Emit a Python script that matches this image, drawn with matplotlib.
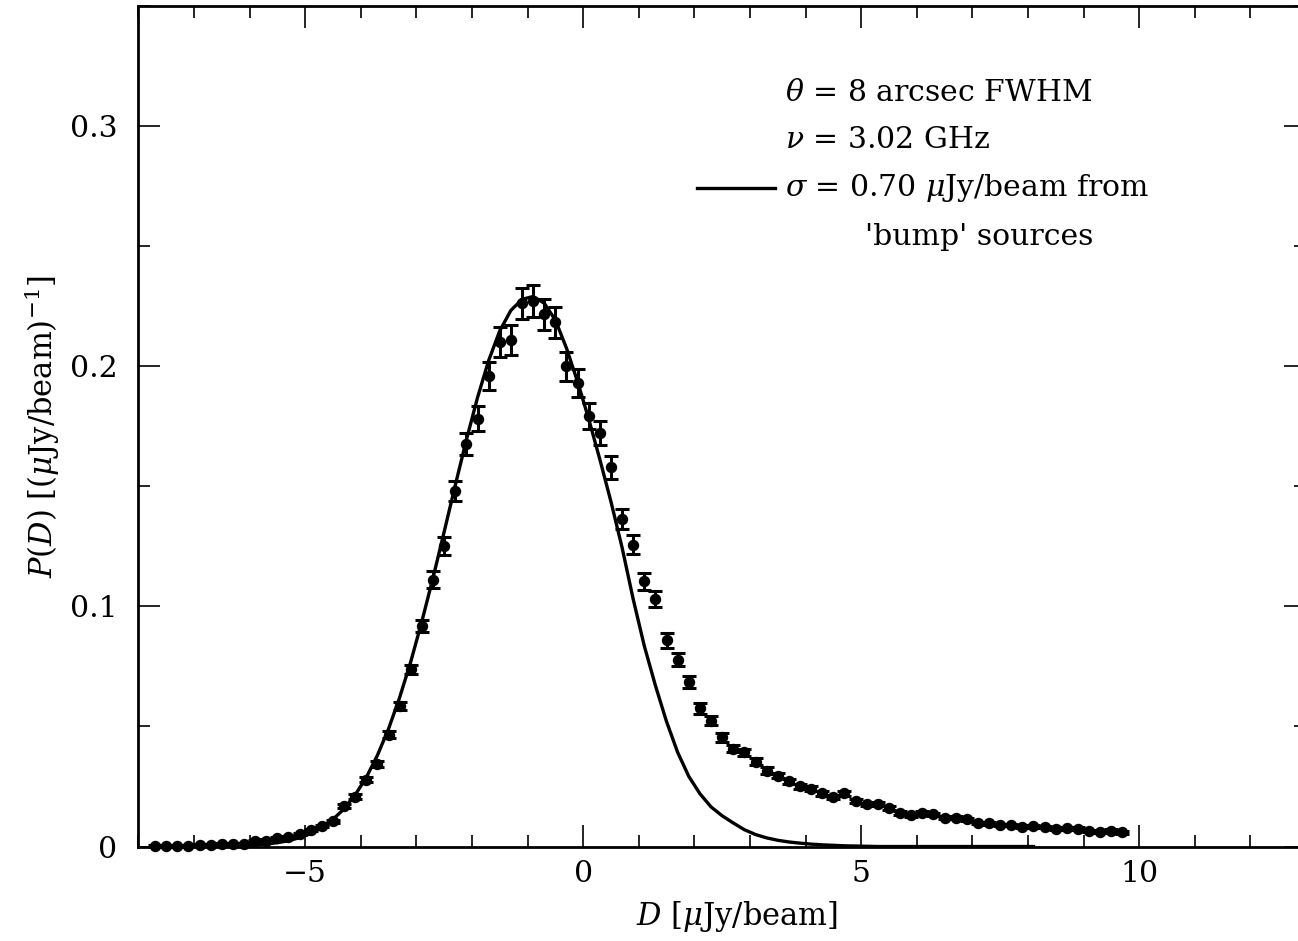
import matplotlib.pyplot as plt
import numpy as np

plt.rcParams['font.family'] = 'DejaVu Serif'
plt.rcParams['mathtext.fontset'] = 'dejavuserif'

## measured P(D) histogram (bin centres, values, errors)
D_data = [-7.7, -7.5, -7.3, -7.1, -6.9, -6.7, -6.5, -6.3, -6.1, -5.9,
          -5.7, -5.5, -5.3, -5.1, -4.9, -4.7, -4.5, -4.3, -4.1, -3.9,
          -3.7, -3.5, -3.3, -3.1, -2.9, -2.7, -2.5, -2.3, -2.1, -1.9,
          -1.7, -1.5, -1.3, -1.1, -0.9, -0.7, -0.5, -0.3, -0.1, 0.1,
          0.3, 0.5, 0.7, 0.9, 1.1, 1.3, 1.5, 1.7, 1.9, 2.1,
          2.3, 2.5, 2.7, 2.9, 3.1, 3.3, 3.5, 3.7, 3.9, 4.1,
          4.3, 4.5, 4.7, 4.9, 5.1, 5.3, 5.5, 5.7, 5.9, 6.1,
          6.3, 6.5, 6.7, 6.9, 7.1, 7.3, 7.5, 7.7, 7.9, 8.1,
          8.3, 8.5, 8.7, 8.9, 9.1, 9.3, 9.5, 9.7]

P_data = [0.0003, 0.0003, 0.0004, 0.0004, 0.0008, 0.0008, 0.0010, 0.0010, 0.0012, 0.0022,
          0.0025, 0.0036, 0.0040, 0.0052, 0.0068, 0.0085, 0.0105, 0.0167, 0.0208, 0.0279,
          0.0345, 0.0466, 0.0584, 0.0737, 0.0917, 0.1110, 0.1250, 0.1480, 0.1676, 0.1780,
          0.1960, 0.2099, 0.2110, 0.2262, 0.2272, 0.2216, 0.2182, 0.1999, 0.1930, 0.1794,
          0.1721, 0.1578, 0.1363, 0.1257, 0.1104, 0.1030, 0.0858, 0.0778, 0.0684, 0.0575,
          0.0524, 0.0455, 0.0408, 0.0392, 0.0353, 0.0316, 0.0295, 0.0271, 0.0251, 0.0241,
          0.0221, 0.0205, 0.0221, 0.0189, 0.0175, 0.0179, 0.0160, 0.0140, 0.0130, 0.0140,
          0.0135, 0.0119, 0.0119, 0.0114, 0.0098, 0.0096, 0.0089, 0.0089, 0.0082, 0.0084,
          0.0082, 0.0075, 0.0077, 0.0075, 0.0064, 0.0060, 0.0066, 0.0059]

P_err = [0.0003, 0.0003, 0.0003, 0.0003, 0.0003, 0.0003, 0.0003, 0.0003, 0.0003, 0.0005,
         0.0005, 0.0005, 0.0005, 0.0005, 0.0005, 0.0005, 0.0005, 0.0008, 0.0009, 0.0010,
         0.0012, 0.0014, 0.0016, 0.0020, 0.0025, 0.0035, 0.0037, 0.0042, 0.0045, 0.0052,
         0.0059, 0.0062, 0.0062, 0.0065, 0.0066, 0.0064, 0.0064, 0.0060, 0.0057, 0.0054,
         0.0050, 0.0049, 0.0042, 0.0040, 0.0035, 0.0033, 0.0031, 0.0026, 0.0024, 0.0022,
         0.0020, 0.0018, 0.0016, 0.0015, 0.0014, 0.0013, 0.0010, 0.0010, 0.0010, 0.0010,
         0.0009, 0.0009, 0.0009, 0.0008, 0.0008, 0.0008, 0.0007, 0.0007, 0.0007, 0.0007,
         0.0006, 0.0006, 0.0006, 0.0006, 0.0006, 0.0005, 0.0005, 0.0005, 0.0005, 0.0005,
         0.0005, 0.0005, 0.0005, 0.0005, 0.0005, 0.0005, 0.0005, 0.0005]

## model curve, sigma = 0.70 uJy/beam bump sources
D_model = D_data[:80]
P_model = [0.0, 0.0, 0.0, 0.0, 0.0001, 0.0001, 0.0002, 0.0003, 0.0004, 0.0006,
           0.0010, 0.0016, 0.0024, 0.0037, 0.0054, 0.0079, 0.0113, 0.0157, 0.0215, 0.0288,
           0.0380, 0.0490, 0.0621, 0.0770, 0.0938, 0.1119, 0.1310, 0.1504, 0.1693, 0.1869,
           0.2023, 0.2147, 0.2232, 0.2278, 0.2290, 0.2262, 0.2192, 0.2075, 0.1935, 0.1780,
           0.1612, 0.1436, 0.1245, 0.1030, 0.0835, 0.0670, 0.0520, 0.0392, 0.0292, 0.0220,
           0.0165, 0.0128, 0.0098, 0.0070, 0.0050, 0.0036, 0.0026, 0.0019, 0.0014, 0.0010,
           0.0007, 0.0005, 0.0003, 0.0002, 0.0001, 0.0, 0.0, 0.0, 0.0, 0.0,
           0.0, 0.0, 0.0, 0.0, 0.0, 0.0, 0.0, 0.0, 0.0, 0.0]

fig = plt.figure(figsize=(12.98, 9.41), dpi=100)
ax = fig.add_axes([0.1066, 0.1004, 0.8995, 0.8934])

ax.plot(D_model, P_model, '-', color='black', lw=2.4, zorder=2)
eb = ax.errorbar(D_data, P_data, yerr=P_err, fmt='o', color='black', ms=7.2,
                 elinewidth=2.2, capsize=4.7, capthick=2.2, zorder=3)
eb_parts = [eb.lines[0]] + list(eb.lines[1]) + list(eb.lines[2])
for art in eb_parts:
    art.set_clip_on(False)

ax.set_xlim(-8, 13)
ax.set_ylim(0, 0.35)
ax.set_xticks([-5, 0, 5, 10])
ax.set_xticklabels(['\u22125', '0', '5', '10'])
ax.set_xticks(np.arange(-8, 14, 1), minor=True)
ax.set_yticks([0, 0.1, 0.2, 0.3])
ax.set_yticklabels(['0', '0.1', '0.2', '0.3'])
ax.set_yticks(np.arange(0, 0.36, 0.05), minor=True)

ax.tick_params(which='both', direction='in', top=True, right=True, labelsize=21.5, width=1.2)
ax.tick_params(which='major', length=16, pad=10)
ax.tick_params(which='minor', length=8.5)
ax.tick_params(axis='y', which='major', pad=15)
for s in ax.spines.values():
    s.set_linewidth(2.0)

ax.set_xlabel(r'$D$ [$\mu$Jy/beam]', fontsize=22)
ax.xaxis.set_label_coords(0.5128, -0.062)
ax.set_ylabel(r'$P(D)$ [($\mu$Jy/beam)$^{-1}$]', fontsize=22, labelpad=6)

## legend-like annotations
txt_kw = dict(fontsize=21.5, va='center')
fig.text(0.6048, 0.9012, r'$\theta$ = 8 arcsec FWHM', **txt_kw)
fig.text(0.6048, 0.8512, r'$\nu$ = 3.02 GHz', **txt_kw)
fig.text(0.6048, 0.8002, r'$\sigma$ = 0.70 $\mu$Jy/beam from', **txt_kw)
fig.text(0.6664, 0.7482, "'bump' sources", **txt_kw)
fig.add_artist(plt.Line2D([0.537, 0.597], [0.8002, 0.8002], color='black', lw=2.4,
                          transform=fig.transFigure))

fig.savefig('out.png', dpi=100)
